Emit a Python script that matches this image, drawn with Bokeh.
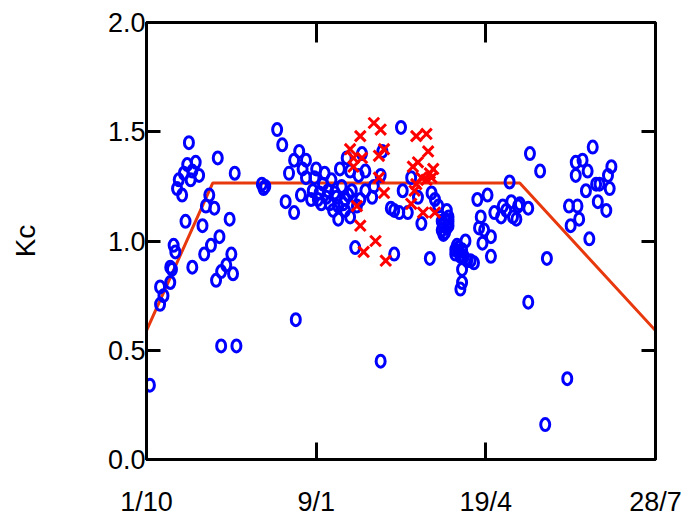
from bokeh.plotting import figure
from bokeh.models import LinearAxis, FixedTicker, Range1d, NumeralTickFormatter
from bokeh.embed import file_html
from bokeh.resources import INLINE

# Days after 1 October, measured Kc (blue circles)
blue_day = [25, 42, 52, 68, 69, 24, 29, 22, 27, 31, 19, 26, 18, 21, 37, 35, 40, 23, 33, 49,
            16, 17, 43, 38, 34, 27, 14, 50, 47, 51, 44, 41, 14, 8, 10, 8, 15, 2, 44, 53,
            88, 138, 225, 248, 235, 185, 186,
            77, 80, 90, 87, 94, 84, 92, 100, 105, 94, 99, 70, 97, 102, 107, 112, 108, 103,
            110, 113, 117, 115, 114, 118, 127, 120, 125, 129, 121, 129, 134, 133, 138, 139,
            82, 87, 120, 123, 144, 146, 104, 98, 109, 126, 91, 117, 124, 113,
            150, 156, 168, 151, 160, 170, 146, 149, 154, 162, 172, 177, 176, 174, 178,
            175, 178, 175, 167, 195, 201, 197, 196, 199, 203, 198, 203, 188, 182, 185,
            191, 193, 186, 184, 186, 214, 205, 210, 215, 212, 216, 209, 219,
            226, 232, 263, 253, 257, 253, 260, 274, 272, 267, 265, 273, 259, 266, 271,
            249, 254, 255, 250, 261, 236, 220, 225, 218,
            175, 177, 176, 178, 174, 182, 184, 187, 189, 183, 106, 111, 116, 119, 101]
blue_kc = [1.45, 1.38, 1.31, 1.26, 1.24, 1.35, 1.36, 1.31, 1.32, 1.30, 1.28, 1.28, 1.24, 1.21, 1.21, 1.16, 1.15, 1.09, 1.07, 1.10,
           0.98, 0.95, 1.02, 0.98, 0.94, 0.88, 0.88, 0.94, 0.89, 0.85, 0.86, 0.82, 0.81, 0.79, 0.75, 0.71, 0.87, 0.34, 0.52, 0.52,
           0.64, 0.45, 0.72, 0.37, 0.16, 0.78, 0.81,
           1.51, 1.44, 1.41, 1.37, 1.37, 1.31, 1.33, 1.33, 1.31, 1.29, 1.29, 1.25, 1.19, 1.22, 1.23, 1.20, 1.17, 1.17,
           1.14, 1.16, 1.19, 1.25, 1.33, 1.38, 1.40, 1.32, 1.30, 1.32, 1.23, 1.23, 1.25, 1.20, 1.30, 1.41,
           1.18, 1.13, 1.11, 0.97, 1.15, 0.94, 1.26, 1.23, 1.28, 1.19, 1.21, 1.14, 1.16, 1.10,
           1.52, 1.29, 1.22, 1.23, 1.20, 1.19, 1.14, 1.13, 1.13, 1.08, 1.16, 1.14, 1.10, 1.05, 1.11,
           1.07, 1.09, 1.03, 0.92, 1.19, 1.21, 1.11, 1.06, 1.05, 1.02, 0.99, 0.93, 1.00, 0.94, 0.93,
           0.91, 0.90, 0.87, 0.97, 0.96, 1.27, 1.13, 1.16, 1.18, 1.14, 1.11, 1.11, 1.16,
           1.40, 1.32, 1.43, 1.36, 1.37, 1.30, 1.32, 1.34, 1.30, 1.26, 1.26, 1.24, 1.23, 1.18, 1.14,
           1.16, 1.16, 1.10, 1.07, 1.01, 0.92, 1.17, 1.15, 1.10,
           1.08, 1.06, 1.04, 1.07, 1.09, 0.96, 0.95, 0.93, 0.91, 0.98, 1.20, 1.22, 1.17, 1.21, 1.19]

# Second data set (red crosses)
red_day = [134, 138, 126, 120, 122, 127, 122, 137, 140, 137, 140, 124, 126, 135, 128, 141,
           159, 165, 166, 160, 157, 169, 167, 162, 168, 159, 158, 156, 163, 170, 165]
red_kc = [1.54, 1.51, 1.48, 1.42, 1.38, 1.38, 1.34, 1.39, 1.42, 1.29, 1.22, 1.16, 1.07, 1.00, 0.95, 0.91,
          1.48, 1.49, 1.41, 1.36, 1.34, 1.33, 1.31, 1.29, 1.29, 1.26, 1.23, 1.17, 1.13, 1.13, 1.28]

# Crop coefficient curve
curve_day = [0, 39, 220, 300]
curve_kc = [0.59, 1.265, 1.265, 0.59]

x_ticks = [0, 100, 200, 300]
x_labels = ["1/10", "9/1", "19/4", "28/7"]
y_ticks = [0.0, 0.5, 1.0, 1.5, 2.0]

FONT = "Liberation Sans"

p = figure(width=690, height=519, output_backend="svg", toolbar_location=None,
           x_range=Range1d(0, 300), y_range=Range1d(0, 2.0),
           x_axis_location=None, y_axis_location=None,
           min_border_left=146, min_border_right=35, min_border_top=22, min_border_bottom=59)
p.grid.visible = False
p.outline_line_color = "black"
p.outline_line_width = 3
p.background_fill_color = "white"
p.border_fill_color = "white"


def style_axis(ax, labels, tick_len):
    ax.axis_line_color = "black"
    ax.axis_line_width = 3
    ax.major_tick_line_color = "black"
    ax.major_tick_line_width = 3
    ax.major_tick_in = tick_len
    ax.major_tick_out = 0
    ax.minor_tick_line_color = None
    ax.major_label_text_font = FONT
    ax.major_label_text_font_size = "27px"
    ax.major_label_text_color = "black"
    if not labels:
        ax.major_label_text_font_size = "0px"
        ax.major_label_text_alpha = 0


left = LinearAxis(ticker=FixedTicker(ticks=y_ticks))
style_axis(left, True, 14)
left.formatter = NumeralTickFormatter(format="0.0")
left.major_label_standoff = 1
left.axis_label = "Kc"
left.axis_label_text_font = FONT
left.axis_label_text_font_style = "normal"
left.axis_label_text_font_size = "28px"
left.axis_label_text_color = "black"
left.axis_label_standoff = 64
p.add_layout(left, "left")

right = LinearAxis(ticker=FixedTicker(ticks=[0.5, 1.0, 1.5]))
style_axis(right, False, 14)
p.add_layout(right, "right")

bottom = LinearAxis(ticker=FixedTicker(ticks=x_ticks))
style_axis(bottom, True, 17)
bottom.major_label_overrides = {t: l for t, l in zip(x_ticks, x_labels)}
bottom.major_label_standoff = 27
p.add_layout(bottom, "below")

top = LinearAxis(ticker=FixedTicker(ticks=[100, 200]))
style_axis(top, False, 20)
p.add_layout(top, "above")

p.line(curve_day, curve_kc, line_color="#E8380D", line_width=3)

p.ellipse(x=blue_day, y=blue_kc, width=9, height=12, width_units="screen",
          height_units="screen", fill_color=None, line_color="#0000FF", line_width=3)

p.scatter(x=red_day, y=red_kc, marker="x", size=15, line_color="#FF0000", line_width=3)

open("out.html", "w").write(file_html(p, INLINE))
